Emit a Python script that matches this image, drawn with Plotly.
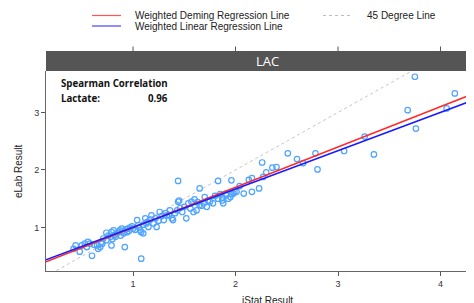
import plotly.graph_objects as go

# ---- data ----
istat = [4.14, 4.06, 3.68, 3.76, 3.75, 3.26, 3.06, 3.35, 2.78, 2.80, 2.51, 2.60, 2.66, 2.36, 2.40,
         2.26, 2.30, 2.13, 2.16, 1.96, 2.23, 2.16, 2.08, 1.99, 1.96, 2.27, 1.83, 2.04, 1.91, 1.87,
         1.70, 1.65, 1.44, 1.45, 1.60,
         0.42, 0.44, 0.50, 0.48, 0.53, 0.56, 0.58, 0.60, 0.65, 0.66, 0.68, 0.69, 0.71, 0.74, 0.74,
         0.78, 0.79, 0.81, 0.79, 0.82, 0.84, 0.86, 0.87, 0.89, 0.92, 0.91, 0.94, 0.95, 0.97, 1.00,
         1.04, 1.05, 1.07, 1.08, 1.10, 1.08, 1.12, 1.13, 1.15, 1.18, 1.20, 1.23, 1.26, 1.30, 1.33,
         1.36, 1.38, 1.39, 1.43, 1.44, 1.48, 1.52, 1.54, 1.57, 1.59, 1.62, 1.65, 1.69, 1.72, 1.73,
         1.78, 1.83, 1.87, 1.88, 1.91, 1.95, 1.98, 2.01,
         0.55, 0.62, 0.70, 0.76, 0.80, 0.83, 0.88, 0.90, 0.93, 0.96, 0.99, 1.02, 1.06, 1.10, 1.14,
         1.17, 1.22, 1.25, 1.28, 1.32, 1.35, 1.41, 1.46, 1.50, 1.56, 1.63, 1.67, 1.75, 1.80, 1.85,
         1.93]
elab = [3.33, 3.07, 3.04, 2.72, 3.62, 2.58, 2.33, 2.27, 2.29, 2.01, 2.29, 2.19, 2.12, 2.04, 2.05,
        2.13, 1.96, 1.83, 1.86, 1.82, 1.68, 1.62, 1.59, 1.62, 1.58, 1.88, 1.81, 1.72, 1.59, 1.52,
        1.53, 1.68, 1.81, 1.47, 1.49,
        0.63, 0.69, 0.69, 0.58, 0.72, 0.75, 0.72, 0.51, 0.69, 0.63, 0.66, 0.75, 0.81, 0.91, 0.78,
        0.84, 0.92, 0.95, 0.69, 0.87, 0.90, 0.92, 0.95, 0.98, 0.66, 0.90, 0.92, 0.98, 1.00, 0.98,
        1.13, 1.04, 0.95, 0.92, 0.90, 0.46, 1.16, 1.07, 1.01, 1.21, 1.07, 1.01, 1.27, 1.13, 1.21,
        1.30, 1.16, 1.13, 1.30, 1.45, 1.27, 1.16, 1.42, 1.45, 1.27, 1.30, 1.39, 1.42, 1.36, 1.47,
        1.42, 1.50, 1.47, 1.42, 1.56, 1.53, 1.59, 1.62,
        0.66, 0.70, 0.72, 0.86, 0.80, 0.84, 0.86, 0.94, 0.97, 0.94, 1.02, 0.96, 1.00, 1.05, 1.10,
        1.14, 1.16, 1.12, 1.20, 1.25, 1.22, 1.25, 1.34, 1.36, 1.33, 1.44, 1.38, 1.45, 1.55, 1.58,
        1.50]

x_range = [0.151, 4.405]
y_range = [0.245, 3.72]
x_ticks = [1, 2, 3, 4]
y_ticks = [1, 2, 3]

deming = (0.30, 0.70)   # intercept, slope
linear = (0.34, 0.665)

line_x = [x_range[0], x_range[1]]

fig = go.Figure()
fig.add_trace(go.Scatter(x=line_x, y=line_x, mode="lines",
                         line=dict(color="#bdbdbd", width=0.9, dash="dot"), hoverinfo="skip"))
fig.add_trace(go.Scatter(x=istat, y=elab, mode="markers",
                         marker=dict(symbol="circle-open", size=5.5, color="#4da3ff",
                                     line=dict(width=1.2, color="#4da3ff"))))
fig.add_trace(go.Scatter(x=line_x, y=[deming[0] + deming[1] * v for v in line_x], mode="lines",
                         line=dict(color="#ff2a2a", width=1.6)))
fig.add_trace(go.Scatter(x=line_x, y=[linear[0] + linear[1] * v for v in line_x], mode="lines",
                         line=dict(color="#1a1aff", width=1.6)))

# page body has an 8px default margin; work in screen pixels and compensate
OFF = 8
W, H = 474, 303
L, T = 46 - OFF, 71 - OFF          # plot area left / top in figure pixels
B = H - (271 - OFF)                # plot bottom at screen y=271
R = 0                              # plot right at figure x=474 (screen 482, off-window)
pw, ph = W - L - R, H - T - B

def px(xs):
    return (xs - OFF - L) / pw

def py(ys):
    return (H - B - (ys - OFF)) / ph

axis_font = dict(family="Liberation Sans, Arial", size=9, color="#333333")

fig.update_layout(
    width=W, height=H, margin=dict(l=L, r=R, t=T, b=B),
    plot_bgcolor="white", paper_bgcolor="white", showlegend=False,
    xaxis=dict(range=x_range, tickvals=x_ticks, ticks="outside", ticklen=4, tickcolor="#555555",
               showline=True, linecolor="#666666", linewidth=1, showgrid=False, zeroline=False,
               tickfont=axis_font),
    yaxis=dict(range=y_range, tickvals=y_ticks, ticks="outside", ticklen=4, tickcolor="#555555",
               showline=True, linecolor="#666666", linewidth=1, showgrid=False, zeroline=False,
               tickfont=axis_font),
)

shapes = []
# strip
shapes.append(dict(type="rect", xref="paper", yref="paper", x0=0, x1=1.0, y0=1, y1=py(51),
                   fillcolor="#555555", line=dict(width=0), layer="above"))
# top ticks
for t in x_ticks:
    shapes.append(dict(type="line", xref="x", yref="paper", x0=t, x1=t, y0=py(51), y1=py(46.5),
                       line=dict(color="#555555", width=1)))
# legend keys
shapes.append(dict(type="line", xref="paper", yref="paper", x0=px(92), x1=px(121), y0=py(15.5), y1=py(15.5),
                   line=dict(color="#ff5555", width=1.2)))
shapes.append(dict(type="line", xref="paper", yref="paper", x0=px(92), x1=px(121), y0=py(26), y1=py(26),
                   line=dict(color="#4444ff", width=1.2)))
shapes.append(dict(type="line", xref="paper", yref="paper", x0=px(323), x1=px(353), y0=py(15.5), y1=py(15.5),
                   line=dict(color="#bdbdbd", width=1, dash="dot")))
fig.update_layout(shapes=shapes)

leg_font = dict(family="Liberation Sans, Arial", size=10, color="#222222")
bold_font = dict(family="Open Sans, Liberation Sans", size=9.7, color="#111111", weight="bold")
ann = [
    dict(text="LAC", x=px(267), y=py(61), font=dict(family="Open Sans", size=13, color="white")),
    dict(text="Weighted Deming Regression Line", x=px(133), y=py(15.5), xanchor="left", font=leg_font),
    dict(text="Weighted Linear Regression Line", x=px(133), y=py(26.5), xanchor="left", font=leg_font),
    dict(text="45 Degree Line", x=px(365), y=py(15.5), xanchor="left", font=leg_font),
    dict(text="Spearman Correlation", x=px(59), y=py(84), xanchor="left", font=bold_font),
    dict(text="Lactate:", x=px(59), y=py(98), xanchor="left", font=bold_font),
    dict(text="0.96", x=px(146), y=py(98), xanchor="left", font=bold_font),
    dict(text="eLab Result", x=px(18), y=py(171), textangle=-90, font=leg_font),
    dict(text="iStat Result", x=px(267), y=py(300), font=leg_font),
]
for a in ann:
    a.update(xref="paper", yref="paper", showarrow=False)
    a.setdefault("xanchor", "center")
    a.setdefault("yanchor", "middle")
fig.update_layout(annotations=ann)

fig.write_html("out.html")
